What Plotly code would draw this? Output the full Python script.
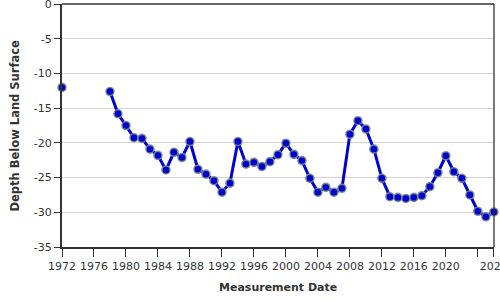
import plotly.graph_objects as go

years = [1972, 1978, 1979, 1980, 1981, 1982, 1983, 1984, 1985, 1986, 1987, 1988,
         1989, 1990, 1991, 1992, 1993, 1994, 1995, 1996, 1997, 1998, 1999, 2000,
         2001, 2002, 2003, 2004, 2005, 2006, 2007, 2008, 2009, 2010, 2011, 2012,
         2013, 2014, 2015, 2016, 2017, 2018, 2019, 2020, 2021, 2022, 2023, 2024,
         2025, 2026]
depth = [-12.0, -12.6, -15.8, -17.5, -19.25, -19.35, -20.9, -21.8, -23.9, -21.35, -22.1, -19.8,
         -23.8, -24.5, -25.45, -27.1, -25.8, -19.8, -23.05, -22.8, -23.4, -22.7, -21.7, -20.05,
         -21.65, -22.55, -25.1, -27.1, -26.4, -27.1, -26.55, -18.75, -16.8, -18.0, -20.9, -25.1,
         -27.75, -27.85, -28.0, -27.85, -27.6, -26.3, -24.3, -21.85, -24.15, -25.1, -27.5, -29.85,
         -30.65, -29.95]

x_tickvals = [1972, 1976, 1980, 1984, 1988, 1992, 1996, 2000, 2004, 2008, 2012, 2016, 2020, 2024, 2026]
x_ticktext = ["1972", "1976", "1980", "1984", "1988", "1992", "1996", "2000", "2004", "2008",
              "2012", "2016", "2020", "", "2026"]
y_tickvals = [0, -5, -10, -15, -20, -25, -30, -35]
y_ticktext = ["0", "-5", "-10", "-15", "-20", "-25", "-30", "-35"]
x_title = "Measurement Date"
y_title = "Depth Below Land Surface"

# break the line where there is a gap of more than 2 years
xs, ys = [], []
for i, (yr, d) in enumerate(zip(years, depth)):
    if i > 0 and yr - years[i - 1] > 2:
        xs.append(None)
        ys.append(None)
    xs.append(yr)
    ys.append(d)

fig = go.Figure()
fig.add_trace(go.Scatter(
    x=xs, y=ys, mode="lines+markers", connectgaps=False,
    line=dict(color="#0000d0", width=3),
    marker=dict(color="#0000d0", size=8,
                line=dict(color="rgba(120,140,140,0.85)", width=1.6)),
    hoverinfo="skip", showlegend=False, cliponaxis=False,
))

font_color = "#333333"
fig.update_layout(
    width=500, height=300,
    margin=dict(l=62, r=5.5, t=4, b=53),
    paper_bgcolor="white", plot_bgcolor="white",
    font=dict(family="DejaVu Sans", size=11, color=font_color),
    xaxis=dict(
        range=[1972, 2026.02], tickmode="array", tickvals=x_tickvals, ticktext=x_ticktext,
        showgrid=False, zeroline=False, ticklabeloverflow="allow", automargin=False,
        showline=True, linecolor=font_color, linewidth=2,
        ticks="outside", ticklen=8, tickwidth=1.3, tickcolor=font_color,
    ),
    yaxis=dict(
        range=[-35, 0.02], tickmode="array", tickvals=y_tickvals, ticktext=y_ticktext,
        showgrid=True, gridcolor="#d4d4d4", gridwidth=1, zeroline=False,
        ticklabeloverflow="allow", automargin=False,
        showline=True, linecolor=font_color, linewidth=2,
        ticks="outside", ticklen=6, tickwidth=1.3, tickcolor=font_color,
    ),
    annotations=[
        dict(text="<b>" + x_title + "</b>", xref="paper", yref="paper", x=0.5, y=0,
             xanchor="center", yanchor="middle", yshift=-40, showarrow=False,
             font=dict(size=11, color=font_color)),
        dict(text="<b>" + y_title + "</b>", xref="paper", yref="paper", x=0, y=0.5,
             xanchor="center", yanchor="middle", xshift=-48, textangle=-90, showarrow=False,
             font=dict(size=11.5, color=font_color)),
    ],
    shapes=[
        dict(type="line", xref="paper", yref="paper", x0=0, x1=1, y0=1, y1=1,
             line=dict(color=font_color, width=1.3)),
        dict(type="line", xref="paper", yref="paper", x0=1, x1=1, y0=0, y1=1,
             line=dict(color=font_color, width=1.3)),
    ],
)

fig.write_html("out.html")
